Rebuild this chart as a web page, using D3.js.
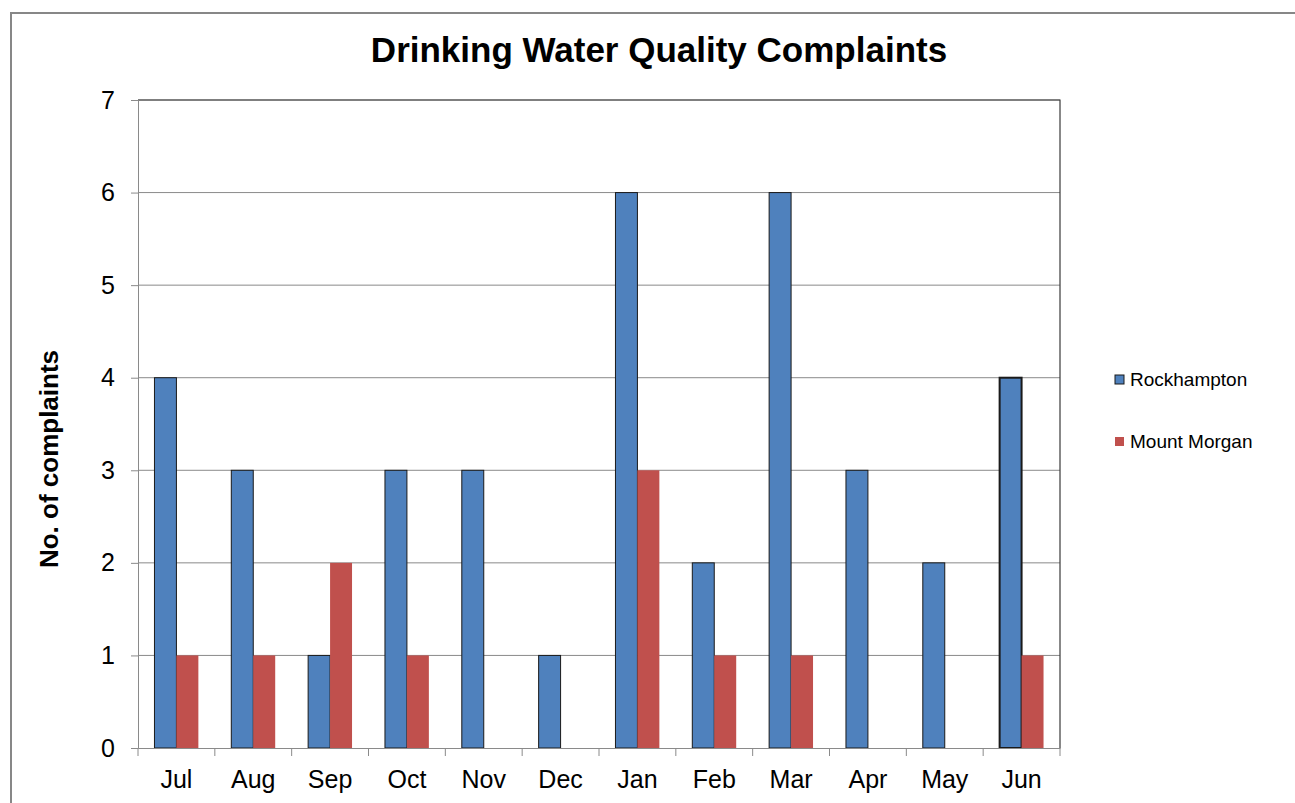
<!DOCTYPE html>
<html>
<head>
<meta charset="utf-8">
<script src="https://cdn.jsdelivr.net/npm/d3@7"></script>
<style>
  body { margin: 0; background: #fff; }
  svg text { font-family: Arial, "Liberation Sans", sans-serif; }
</style>
</head>
<body>
<svg id="chart"></svg>
<script>
// Data
var months = ["Jul","Aug","Sep","Oct","Nov","Dec","Jan","Feb","Mar","Apr","May","Jun"];
var seriesNames = ["Rockhampton","Mount Morgan"];
var rockhampton = [4,3,1,3,3,1,6,2,6,3,2,4];
var mountMorgan = [1,1,2,1,0,0,3,1,1,0,0,1];
var yTicks = [0,1,2,3,4,5,6,7];
var colors = ["#4F81BD","#C0504D"];

var W = 1295, H = 803;
var plot = {left:138, top:100, right:1060, bottom:748};

var svg = d3.select("#chart").attr("width", W).attr("height", H);

// outer chart border
svg.append("rect")
    .attr("x", 11).attr("y", 13)
    .attr("width", W - 11 + 5).attr("height", H)
    .style("fill", "none").style("stroke", "#878787").style("stroke-width", 2);

// title
svg.append("text")
    .attr("x", 659).attr("y", 62)
    .attr("text-anchor", "middle")
    .style("font-size", "35px").style("font-weight", "bold")
    .text("Drinking Water Quality Complaints");

var x = d3.scaleBand().domain(months).range([plot.left, plot.right]);
var xs = d3.scaleBand().domain(seriesNames)
    .range([0, x.bandwidth()]).paddingInner(0).paddingOuter(0.75);
var y = d3.scaleLinear().domain([0,7]).range([plot.bottom, plot.top]);

// gridlines
svg.append("g").selectAll("line")
    .data(yTicks.slice(1))
    .enter().append("line")
        .attr("x1", plot.left).attr("x2", plot.right)
        .attr("y1", function(d){ return y(d); })
        .attr("y2", function(d){ return y(d); })
        .style("stroke", "#8a8a8a").style("stroke-width", 1);

// plot area border (top + right)
svg.append("path")
    .attr("d", "M" + plot.left + "," + plot.top + "H" + plot.right + "V" + plot.bottom)
    .style("fill", "none").style("stroke", "#3a3a3a").style("stroke-width", 1.2);

// bars
var rows = months.map(function(m, i){
    return {month:m, values:[
        {name:seriesNames[0], v:rockhampton[i], c:colors[0], last:i == months.length-1},
        {name:seriesNames[1], v:mountMorgan[i], c:colors[1]}
    ]};
});

var groups = svg.append("g").selectAll("g")
    .data(rows)
    .enter().append("g")
        .attr("transform", function(d){ return "translate(" + x(d.month) + ",0)"; });

groups.selectAll("rect")
    .data(function(d){ return d.values; })
    .enter().append("rect")
        .attr("x", function(d){ return xs(d.name); })
        .attr("width", xs.bandwidth())
        .attr("y", function(d){ return y(d.v); })
        .attr("height", function(d){ return y(0) - y(d.v); })
        .style("fill", function(d){ return d.c; })
        .style("stroke", function(d){ return d.name == seriesNames[0] ? "#1a1a1a" : "none"; })
        .style("stroke-width", function(d){ return d.last ? 2 : 1; });

// y axis
var yAxis = svg.append("g")
    .attr("transform", "translate(" + plot.left + ",0)")
    .call(d3.axisLeft(y).tickValues(yTicks).tickSize(7).tickPadding(16).tickFormat(d3.format("d")));
yAxis.select(".domain").style("stroke", "#8a8a8a");
yAxis.selectAll(".tick line").style("stroke", "#8a8a8a");
yAxis.selectAll("text").style("font-size", "25px").style("fill", "#000")
    .style("font-family", "Arial, 'Liberation Sans', sans-serif");

// x axis: ticks at category boundaries
var xAxis = svg.append("g")
    .attr("transform", "translate(0," + plot.bottom + ")")
    .call(d3.axisBottom(x).tickSize(0).tickPadding(22));
xAxis.select(".domain").style("stroke", "#8a8a8a");
xAxis.selectAll("text").style("font-size", "25px").style("fill", "#000")
    .style("font-family", "Arial, 'Liberation Sans', sans-serif");
xAxis.selectAll(".bound")
    .data(months.map(function(m){ return x(m); }).concat([plot.right]))
    .enter().append("line")
        .attr("class", "bound")
        .attr("x1", function(d){ return d; }).attr("x2", function(d){ return d; })
        .attr("y1", 0).attr("y2", 8)
        .style("stroke", "#8a8a8a");

// y axis title
svg.append("text")
    .attr("transform", "translate(58,459) rotate(-90)")
    .attr("text-anchor", "middle")
    .style("font-size", "26px").style("font-weight", "bold")
    .text("No. of complaints");

// legend
var legend = svg.append("g").selectAll("g")
    .data(seriesNames)
    .enter().append("g")
        .attr("transform", function(d, i){ return "translate(1115," + (375 + i*62) + ")"; });
legend.append("rect")
    .attr("width", 9).attr("height", 9)
    .style("fill", function(d, i){ return colors[i]; })
    .style("stroke", function(d, i){ return i == 0 ? "#1a1a1a" : "none"; })
    .style("stroke-width", 1);
legend.append("text")
    .attr("x", 15).attr("y", 11)
    .style("font-size", "19px")
    .text(function(d){ return d; });
</script>
</body>
</html>
